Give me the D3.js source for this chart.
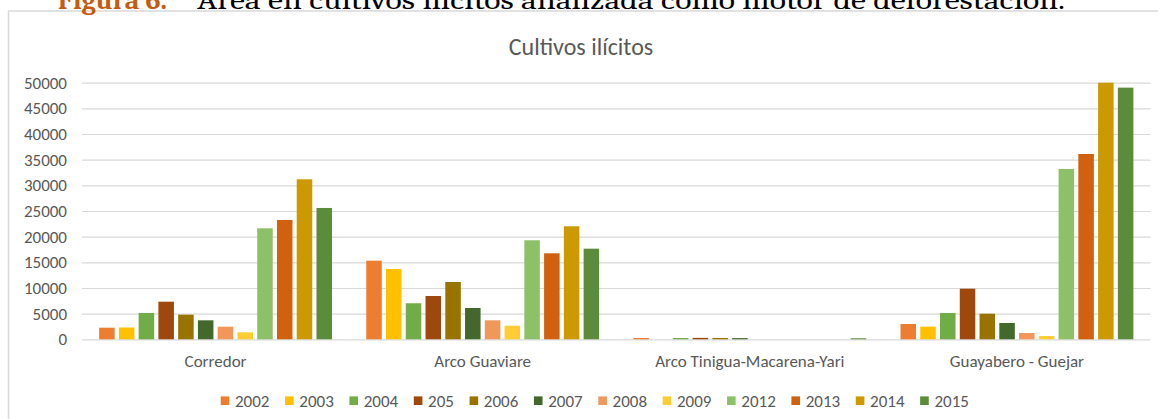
<!DOCTYPE html>
<html>
<head>
<meta charset="utf-8">
<script src="https://cdn.jsdelivr.net/npm/d3@7"></script>
<style>
  html, body { margin: 0; padding: 0; background: #fff; overflow: hidden; }
  svg { display: block; }
  .lbl { font-family: Calibri, Carlito, "Open Sans", sans-serif; fill: #595959; }
</style>
</head>
<body>
<svg id="chart" width="1158" height="419"></svg>
<script>
/* -----------------------------------------------------------
   DATA
----------------------------------------------------------- */
const categories = ["Corredor", "Arco Guaviare", "Arco Tinigua-Macarena-Yari", "Guayabero - Guejar"];
const years = ["2002", "2003", "2004", "205", "2006", "2007", "2008", "2009", "2012", "2013", "2014", "2015"];
const colors = ["#ED7D31", "#FFC000", "#70AD47", "#9E480E", "#997300", "#43682B",
                "#F1975A", "#FFCD33", "#8CC168", "#D1600F", "#CC9A00", "#5B8C3B"];

// one row per category, one value per year
const corredor   = [2260, 2300, 5130, 7330, 4800, 3700, 2460, 1360, 21630, 23250, 31180, 25590];
const arcoGuav   = [15320, 13700, 7020, 8440, 11170, 6100, 3700, 2650, 19300, 16760, 22020, 17660];
const arcoTinig  = [250, 0, 250, 280, 260, 230, 0, 0, 0, 0, 0, 200];
const guayabero  = [2980, 2460, 5130, 9860, 4990, 3180, 1230, 640, 33190, 36110, 50000, 49040];
const seriesRows = [corredor, arcoGuav, arcoTinig, guayabero];

const yTicks = d3.range(0, 50001, 5000);

/* -----------------------------------------------------------
   LAYOUT
----------------------------------------------------------- */
const svg = d3.select("#chart");
const plot = { left: 82, right: 1150.5, top: 82.7, bottom: 339.3 };

// chart frame (only top + left edges fall inside the picture)
svg.append("path")
  .attr("d", "M8.5,440V11H1170")
  .attr("fill", "none")
  .attr("stroke", "#d9d9d9")
  .attr("stroke-width", 1.5);

// document caption, clipped by the top of the window as in the source
const cap = svg.append("text")
  .attr("y", 9)
  .attr("font-family", "Cambria, 'Liberation Serif', serif")
  .attr("font-size", 28);
cap.append("tspan").attr("x", 58).attr("fill", "#C55A11").attr("font-weight", "bold")
  .attr("textLength", 109).attr("lengthAdjust", "spacingAndGlyphs")
  .text("Figura 6.");
cap.append("tspan").attr("x", 197).attr("fill", "#000")
  .attr("textLength", 868).attr("lengthAdjust", "spacingAndGlyphs")
  .text("Área en cultivos ilícitos analizada como motor de deforestación.");

// title
svg.append("text")
  .attr("class", "lbl")
  .attr("x", 581).attr("y", 55)
  .attr("text-anchor", "middle")
  .attr("font-size", 24)
  .text("Cultivos ilícitos");

/* -----------------------------------------------------------
   SCALES
----------------------------------------------------------- */
const x0 = d3.scaleBand().domain(categories).range([plot.left, plot.right]).padding(0);
const x1 = d3.scaleBand().domain(years).range([0, x0.bandwidth()])
  .paddingInner(0.215).paddingOuter(0.867);
const y = d3.scaleLinear().domain([0, 50000]).range([plot.bottom, plot.top]);
const color = d3.scaleOrdinal().domain(years).range(colors);

/* -----------------------------------------------------------
   AXES
----------------------------------------------------------- */
const yAxis = svg.append("g")
  .attr("transform", `translate(${plot.left},0)`)
  .call(d3.axisLeft(y).tickValues(yTicks).tickFormat(d3.format("d"))
    .tickSize(-(plot.right - plot.left)).tickPadding(15));
yAxis.select(".domain").remove();
yAxis.selectAll(".tick line").attr("stroke", "#d9d9d9").attr("stroke-width", 1.2);
yAxis.selectAll(".tick text").attr("class", "lbl").attr("font-size", 17).attr("fill", "#595959");

const xAxis = svg.append("g")
  .attr("transform", `translate(0,${plot.bottom})`)
  .call(d3.axisBottom(x0).tickSize(0).tickPadding(16));
xAxis.select(".domain").remove();
xAxis.selectAll(".tick text").attr("class", "lbl").attr("font-size", 17).attr("fill", "#595959");

/* -----------------------------------------------------------
   BARS
----------------------------------------------------------- */
const groups = svg.append("g").selectAll("g")
  .data(categories)
  .join("g")
  .attr("transform", (d) => `translate(${x0(d)},0)`);

groups.selectAll("rect")
  .data((d, i) => years.map((yr, j) => ({ year: yr, value: seriesRows[i][j] })))
  .join("rect")
  .attr("x", (d) => x1(d.year))
  .attr("width", x1.bandwidth())
  .attr("y", (d) => y(d.value))
  .attr("height", (d) => y(0) - y(d.value))
  .attr("fill", (d) => color(d.year));

/* -----------------------------------------------------------
   LEGEND
----------------------------------------------------------- */
const legend = svg.append("g");
const items = legend.selectAll("g").data(years).join("g");
items.append("rect")
  .attr("width", 8.6).attr("height", 8.6)
  .attr("y", 396.4)
  .attr("fill", (d) => color(d));
items.append("text")
  .attr("class", "lbl")
  .attr("x", 14.3).attr("y", 406.8)
  .attr("font-size", 17)
  .text((d) => d);

let lx = 220.7;
items.each(function () {
  const w = d3.select(this).select("text").node().getComputedTextLength();
  d3.select(this).attr("transform", `translate(${lx},0)`);
  lx += 14.3 + w + 15.6;
});
</script>
</body>
</html>
